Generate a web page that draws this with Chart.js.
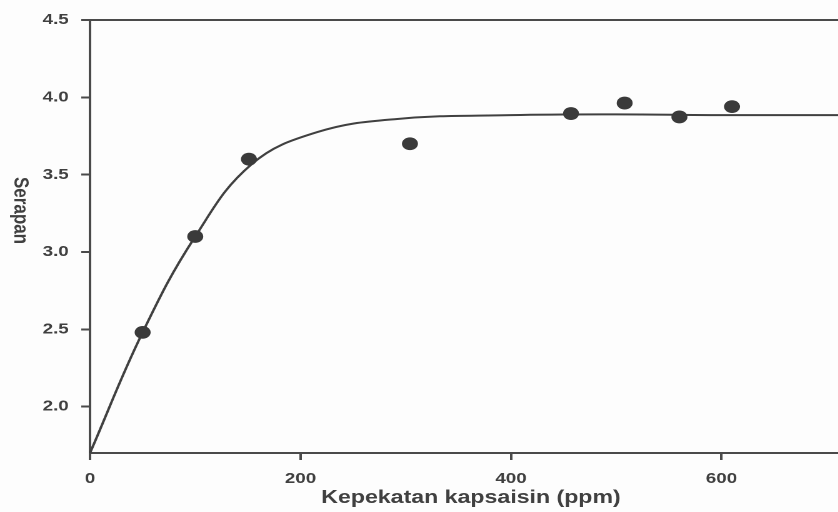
<!DOCTYPE html>
<html>
<head>
<meta charset="utf-8">
<script src="https://cdn.jsdelivr.net/npm/chart.js@4/dist/chart.umd.min.js"></script>
<style>
  html, body { margin: 0; padding: 0; background: #fdfdfd; overflow: hidden; width: 838px; height: 512px; }
  #wrap { position: absolute; left: 0; top: 0; width: 688px; height: 512px; transform: scaleX(1.25); transform-origin: 0 0; }
</style>
</head>
<body>
<div id="wrap"><canvas id="c" width="688" height="512"></canvas></div>
<script>
// Measured points (capsaicin concentration, ppm -> absorbance)
const pointX = [50, 100, 151, 304, 457, 508, 560, 610];
const pointY = [2.48, 3.10, 3.60, 3.70, 3.895, 3.963, 3.873, 3.94];

// Fitted curve
const curveX = [0, 50, 100, 154, 216, 292, 400, 500, 600, 724];
const curveY = [1.70, 2.48, 3.10, 3.57, 3.775, 3.86, 3.885, 3.89, 3.885, 3.885];

const xTicks = [0, 200, 400, 600];
const yTicks = [2.0, 2.5, 3.0, 3.5, 4.0, 4.5];

const xTitle = 'Kepekatan kapsaisin (ppm)';
const yTitle = 'Serapan';

const X_MIN = 0, X_MAX = 724, Y_MIN = 1.7, Y_MAX = 4.5;

const axisColor = '#4a4a4a';
const textColor = '#404040';
const FONT = '"Liberation Sans", Arial, sans-serif';

const toXY = (xs, ys) => xs.map((x, i) => ({ x: x, y: ys[i] }));

const bgPlugin = {
  id: 'bg',
  beforeDraw(chart) {
    const ctx = chart.ctx;
    ctx.save();
    ctx.fillStyle = '#fdfdfd';
    ctx.fillRect(0, 0, chart.width, chart.height);
    ctx.restore();
  }
};

const yTitlePlugin = {
  id: 'yTitleDown',
  afterDraw(chart) {
    const ctx = chart.ctx;
    const ya = chart.scales.y;
    ctx.save();
    ctx.translate(16, (ya.top + ya.bottom) / 2 - 26);
    ctx.rotate(Math.PI / 2);
    ctx.font = 'bold 17px ' + FONT;
    ctx.fillStyle = textColor;
    ctx.textAlign = 'center';
    ctx.textBaseline = 'middle';
    ctx.fillText(yTitle, 0, 0);
    ctx.restore();
  }
};

new Chart(document.getElementById('c'), {
  type: 'scatter',
  data: {
    datasets: [
      {
        type: 'line',
        data: toXY(curveX, curveY),
        borderColor: '#404040',
        borderWidth: 2,
        pointRadius: 0,
        fill: false,
        tension: 0.4,
        order: 2
      },
      {
        type: 'scatter',
        data: toXY(pointX, pointY),
        backgroundColor: '#3a3a3a',
        borderColor: '#3a3a3a',
        borderWidth: 0,
        pointRadius: 6.4,
        order: 1
      }
    ]
  },
  options: {
    responsive: false,
    animation: false,
    devicePixelRatio: 2,
    clip: false,
    layout: { padding: 0 },
    plugins: { legend: { display: false }, tooltip: { enabled: false } },
    scales: {
      x: {
        type: 'linear',
        position: 'bottom',
        min: X_MIN, max: X_MAX,
        afterBuildTicks: (s) => { s.ticks = xTicks.map(v => ({ value: v })); },
        afterFit: (s) => { s.height = 59; },
        ticks: {
          color: textColor,
          font: { family: FONT, size: 15, weight: 'bold' },
          padding: 10,
          maxRotation: 0,
          callback: (v) => String(v)
        },
        grid: { drawOnChartArea: false, drawTicks: true, tickLength: 7, color: axisColor, lineWidth: 2 },
        border: { display: true, color: axisColor, width: 2 },
        title: {
          display: true,
          text: xTitle,
          color: textColor,
          font: { family: FONT, size: 18.5, weight: 'bold' },
          padding: { top: 2, bottom: 3 }
        }
      },
      xTop: {
        type: 'linear',
        position: 'top',
        min: X_MIN, max: X_MAX,
        afterFit: (s) => { s.height = 20; },
        ticks: { display: false },
        grid: { display: false, drawTicks: false },
        border: { display: true, color: axisColor, width: 2 }
      },
      y: {
        type: 'linear',
        position: 'left',
        min: Y_MIN, max: Y_MAX,
        afterBuildTicks: (s) => { s.ticks = yTicks.map(v => ({ value: v })); },
        afterFit: (s) => { s.width = 72; },
        ticks: {
          color: textColor,
          font: { family: FONT, size: 15, weight: 'bold' },
          padding: 10,
          callback: (v) => Number(v).toFixed(1)
        },
        grid: { drawOnChartArea: false, drawTicks: true, tickLength: 7, color: axisColor, lineWidth: 2 },
        border: { display: true, color: axisColor, width: 2 },
        title: { display: false }
      }
    }
  },
  plugins: [bgPlugin, yTitlePlugin]
});
</script>
</body>
</html>
